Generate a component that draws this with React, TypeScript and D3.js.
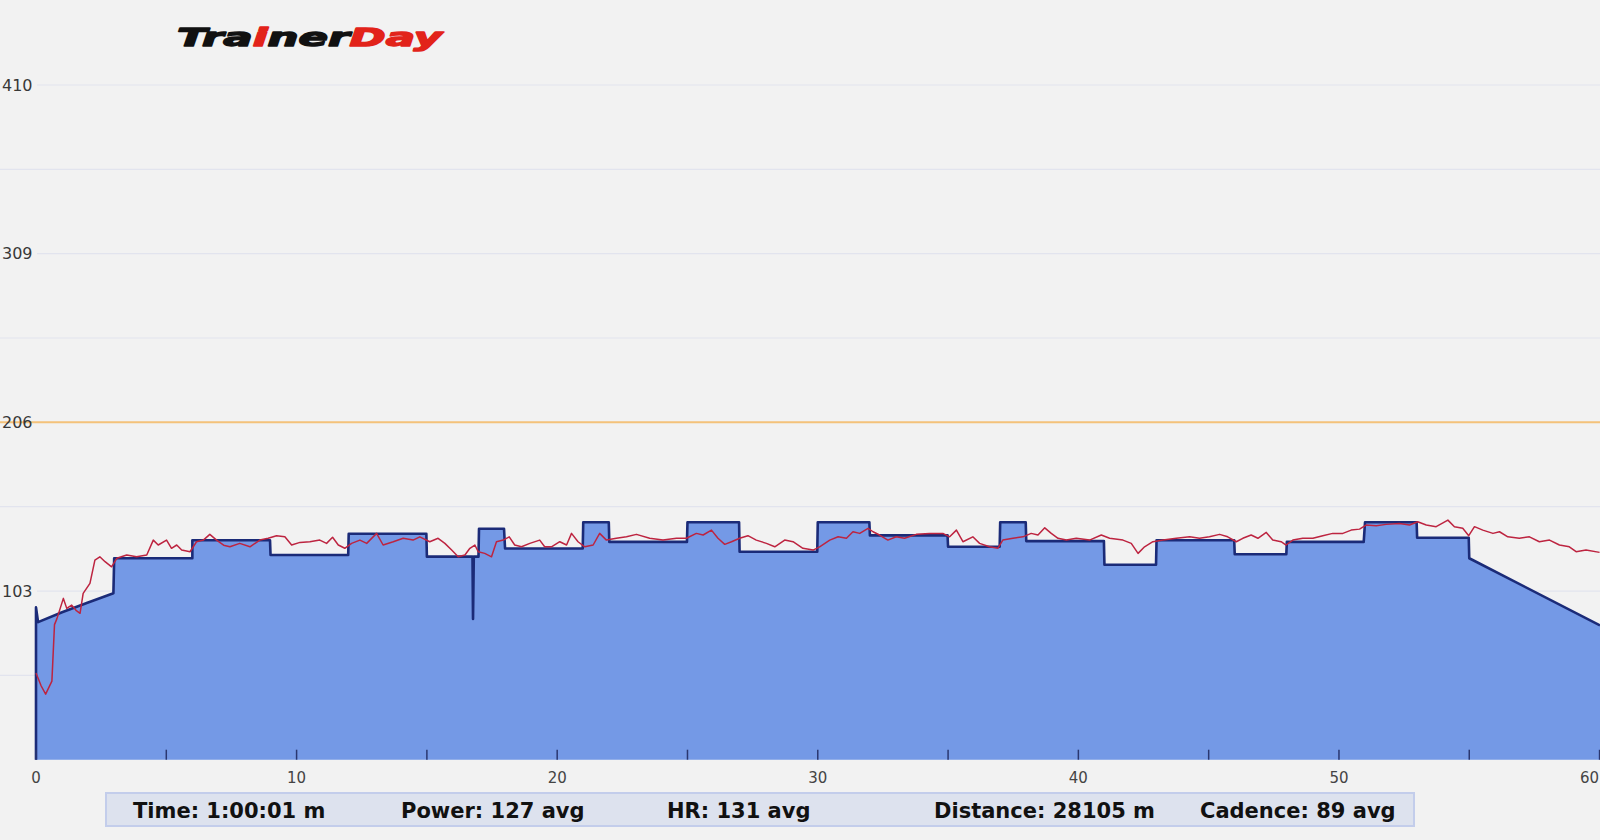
import React from "react";
import * as d3 from "d3";

// ---------- data ----------
const Y_MAX = 412;
const Y_GRID_VALUES = [51.5, 103, 154.5, 206, 257.5, 309, 360.5, 412];
const Y_LABEL_VALUES = [103, 206, 309, 412];
const Y_LABELS = ["103", "206", "309", "410"];
const FTP_VALUE = 206;

const X_MAX = 60.017; // minutes (1:00:01)
const X_TICKS = [0, 5, 10, 15, 20, 25, 30, 35, 40, 45, 50, 55, 60];
const X_LABELS = [0, 10, 20, 30, 40, 50, 60];

// power (watts) vs time (minutes)
const powerPoints: [number, number][] = [
  [0, 0], [0, 93], [0.08, 84], [1, 90], [2, 96], [2.97, 101.6],
  [3, 123], [6, 123], [6, 134], [8.98, 134], [9, 125], [11.98, 125],
  [12, 138], [14.98, 138], [15, 124], [16.75, 124], [16.77, 86], [16.8, 124],
  [16.98, 124], [17, 141], [17.96, 141], [18, 129], [20.98, 129], [21, 145],
  [21.98, 145], [22, 133], [24.98, 133], [25, 145], [26.98, 145], [27, 127],
  [29.98, 127], [30, 145], [31.98, 145], [32, 137], [34.98, 137], [35, 130],
  [36.98, 130], [37, 145], [37.98, 145], [38, 133.5], [40.98, 133.5], [41, 119],
  [42.98, 119], [43, 134], [45.98, 134], [46, 125.5], [47.98, 125.5], [48, 133],
  [50.95, 133], [51, 145], [52.98, 145], [53, 135.5], [54.98, 135.5], [55, 123],
  [60.017, 82],
];

// heart rate (bpm) vs time (minutes)
const hrPoints: [number, number][] = [
  [0, 53], [0.2, 45], [0.37, 40], [0.55, 46], [0.61, 48], [0.71, 82.5],
  [0.8, 86], [1.05, 98.5], [1.18, 92.4], [1.37, 94.4], [1.55, 91], [1.69, 89.4],
  [1.81, 101.6], [2.07, 107.7], [2.26, 121.9], [2.45, 123.9], [2.65, 120.9],
  [2.9, 117.8], [3.1, 123], [3.48, 125], [3.86, 123.9], [4.25, 125], [4.5, 134.1],
  [4.69, 131.1], [5.01, 134.1], [5.2, 129.1], [5.4, 131.1], [5.59, 128],
  [5.91, 127], [6.16, 133.1], [6.42, 134.1], [6.67, 137.6], [6.93, 134.1],
  [7.2, 131], [7.44, 130], [7.82, 132.1], [8.21, 130], [8.59, 134.1], [8.91, 135.2],
  [9.23, 136.8], [9.55, 136.1], [9.81, 131.1], [10.13, 132.7], [10.51, 133.1],
  [10.89, 134.1], [11.15, 132.1], [11.38, 135.8], [11.6, 131.1], [11.85, 129.1],
  [12.11, 132.1], [12.43, 134.1], [12.69, 132.1], [13.07, 138.2], [13.32, 131.1],
  [13.71, 133.1], [14.09, 135.2], [14.47, 134.1], [14.73, 136.1], [15.11, 133.1],
  [15.43, 135.2], [15.69, 132.1], [15.95, 128], [16.2, 123.9], [16.46, 125],
  [16.65, 129.1], [16.84, 131.1], [16.97, 127], [17.22, 126], [17.48, 123.9],
  [17.67, 133.1], [17.93, 134.1], [18.16, 136.1], [18.37, 131.1], [18.63, 130],
  [18.95, 132.1], [19.33, 134.1], [19.52, 130], [19.78, 130], [20.1, 133.1],
  [20.36, 131.1], [20.55, 138.2], [20.8, 133.1], [21.06, 130], [21.38, 131.1],
  [21.63, 138.2], [21.89, 134.1], [22.27, 135.2], [22.66, 136.1], [23.04, 137.6],
  [23.55, 135.2], [24.06, 134.1], [24.58, 135.2], [24.96, 135.2], [25.34, 138.2],
  [25.6, 137.2], [25.92, 140.2], [26.17, 135.2], [26.43, 131.5], [26.69, 133.1],
  [27.0, 135.2], [27.32, 136.8], [27.64, 134.1], [28.03, 132.1], [28.35, 130],
  [28.73, 134.1], [29.05, 133.1], [29.43, 129.1], [29.82, 128], [30.07, 130],
  [30.46, 134.1], [30.78, 136.1], [31.1, 135.2], [31.35, 139.2], [31.61, 138.2],
  [31.93, 141.3], [32.12, 139.2], [32.37, 137.2], [32.69, 134.1], [33.01, 136.1],
  [33.33, 135.2], [33.78, 137.6], [34.29, 138.2], [34.8, 138.2], [35.06, 136.1],
  [35.32, 140.2], [35.57, 133.1], [35.95, 136.1], [36.21, 132.1], [36.59, 130],
  [36.91, 129.1], [37.1, 134.1], [37.49, 135.2], [37.87, 136.1], [38.19, 138.2],
  [38.45, 137.2], [38.71, 141.6], [38.96, 138.2], [39.22, 135.2], [39.54, 134.1],
  [39.92, 135.2], [40.43, 134.1], [40.88, 137.2], [41.2, 135.2], [41.71, 134.1],
  [42.03, 132.1], [42.29, 126], [42.54, 130], [42.86, 133.1], [43.25, 134.1],
  [43.76, 135.2], [44.27, 136.1], [44.65, 135.2], [45.03, 136.1], [45.42, 137.6],
  [45.73, 136.1], [46.06, 133.1], [46.31, 135.2], [46.63, 137.2], [46.89, 135.2],
  [47.21, 138.8], [47.46, 134.1], [47.78, 133.1], [47.97, 131.1], [48.23, 134.1],
  [48.61, 135.2], [49.0, 135.2], [49.38, 136.8], [49.76, 138.2], [50.15, 138.2],
  [50.47, 140.2], [50.79, 140.8], [51.04, 143.3], [51.43, 142.9], [51.81, 143.7],
  [52.32, 144.3], [52.71, 143.3], [53.02, 145.3], [53.35, 143.3], [53.73, 142.3],
  [54.18, 146.3], [54.43, 142.3], [54.75, 141.3], [54.98, 136.8], [55.2, 142.3],
  [55.52, 140.2], [55.91, 138.2], [56.16, 139.2], [56.48, 136.1], [56.92, 135.2],
  [57.31, 136.1], [57.69, 133.1], [58.08, 134.1], [58.46, 131.1], [58.84, 130],
  [59.1, 127], [59.48, 128], [60.0, 126.6],
];

const SUMMARY_TEXTS = [
  "Time: 1:00:01 m",
  "Power: 127 avg",
  "HR: 131 avg",
  "Distance: 28105 m",
  "Cadence: 89 avg",
];

// ---------- layout ----------
const W = 1600;
const H = 840;
const PLOT_LEFT = 36;
const PLOT_RIGHT = 1600;
const PLOT_TOP = 85;
const PLOT_BOTTOM = 759.7;
const SUMMARY_X = [133, 401, 667, 934, 1200];

const FONT = "'DejaVu Sans', Verdana, sans-serif";

export default function App() {
  const x = d3.scaleLinear().domain([0, X_MAX]).range([PLOT_LEFT, PLOT_RIGHT]);
  const y = d3.scaleLinear().domain([0, Y_MAX]).range([PLOT_BOTTOM, PLOT_TOP]);

  const area = d3
    .area<[number, number]>()
    .x((d) => x(d[0]))
    .y0(y(0))
    .y1((d) => y(d[1]));
  const line = d3
    .line<[number, number]>()
    .x((d) => x(d[0]))
    .y((d) => y(d[1]));

  return (
    <div style={{ position: "absolute", left: 0, top: 0, width: W, height: H, overflow: "hidden" }}>
      <svg width={W} height={H} style={{ display: "block" }}>
        <rect x={0} y={0} width={W} height={H} fill="#f2f2f2" />

        {/* grid */}
        {Y_GRID_VALUES.map((v) => {
          const labeled = Y_LABEL_VALUES.includes(v);
          return (
            <line
              key={"g" + v}
              x1={labeled ? 37 : 0}
              x2={W}
              y1={y(v)}
              y2={y(v)}
              stroke="#e2e4ee"
              strokeWidth={1.2}
            />
          );
        })}

        {/* FTP line */}
        <line x1={0} x2={W} y1={y(FTP_VALUE)} y2={y(FTP_VALUE)} stroke="#f4c27a" strokeWidth={2} />

        {/* y labels */}
        {Y_LABEL_VALUES.map((v, i) => (
          <text
            key={"yl" + v}
            x={2}
            y={y(v)}
            dy="0.36em"
            fontFamily={FONT}
            fontSize={16}
            fill="#383838"
          >
            {Y_LABELS[i]}
          </text>
        ))}

        {/* power area */}
        <path d={area(powerPoints) || ""} fill="#7499e6" />
        <path
          d={line(powerPoints) || ""}
          fill="none"
          stroke="#1b2b78"
          strokeWidth={2.6}
          strokeLinejoin="round"
        />

        {/* heart rate */}
        <path
          d={line(hrPoints) || ""}
          fill="none"
          stroke="#bd2440"
          strokeWidth={1.5}
          strokeLinejoin="round"
        />

        {/* x ticks */}
        {X_TICKS.map((t) => (
          <line
            key={"xt" + t}
            x1={x(t)}
            x2={x(t)}
            y1={PLOT_BOTTOM}
            y2={PLOT_BOTTOM - 10}
            stroke="#2a3770"
            strokeWidth={1.5}
          />
        ))}
        {X_LABELS.map((t, i) => {
          const last = i === X_LABELS.length - 1;
          return (
            <text
              key={"xl" + t}
              x={last ? W - 1 : x(t)}
              y={778}
              dy="0.36em"
              textAnchor={last ? "end" : "middle"}
              fontFamily={FONT}
              fontSize={15}
              fill="#444"
            >
              {t}
            </text>
          );
        })}

        {/* summary bar */}
        <rect x={106} y={793} width={1308} height={33} fill="#dde2ee" stroke="#c3cdeb" strokeWidth={2} />
        {SUMMARY_TEXTS.map((s, i) => (
          <text
            key={"s" + i}
            x={SUMMARY_X[i]}
            y={818}
            fontFamily={FONT}
            fontSize={21}
            fontWeight="bold"
            fill="#111"
          >
            {s}
          </text>
        ))}

        {/* logo */}
        <text
          x={177}
          y={46}
          fontFamily={FONT}
          fontSize={25}
          fontWeight="bold"
          fontStyle="italic"
          textLength={265}
          lengthAdjust="spacingAndGlyphs"
          fill="#111"
          stroke="#111"
          strokeWidth={1.4}
          strokeLinejoin="round"
        >
          Tra
          <tspan fill="#e2231a" stroke="#e2231a">i</tspan>
          ner
          <tspan fill="#e2231a" stroke="#e2231a">Day</tspan>
        </text>
      </svg>
    </div>
  );
}
